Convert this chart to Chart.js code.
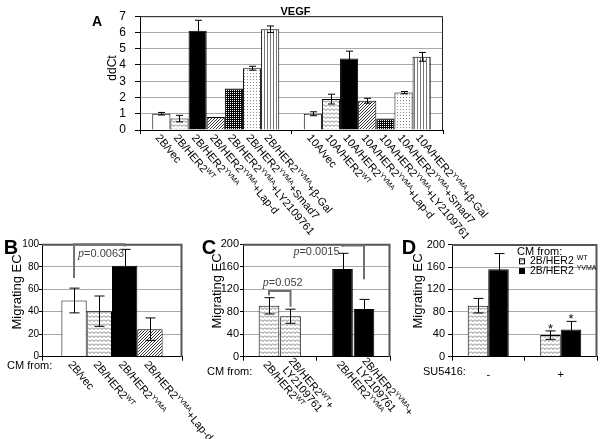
<!DOCTYPE html>
<html>
<head>
<meta charset="utf-8">
<script src="https://cdn.jsdelivr.net/npm/chart.js@4"></script>
<style>
body { margin: 0; background: #fff; }
#wrap { position: relative; width: 600px; height: 439px; overflow: hidden; }
canvas { position: absolute; }
</style>
</head>
<body>
<div id="wrap">
<canvas id="chartA" width="600" height="239" style="left:0px;top:0px"></canvas>
<canvas id="chartB" width="230" height="204" style="left:0px;top:235px"></canvas>
<canvas id="chartC" width="250" height="204" style="left:185px;top:235px"></canvas>
<canvas id="chartD" width="205" height="204" style="left:395px;top:235px"></canvas>
</div>
<script>
// data \/
// A: VEGF ddCt
const cellLines = ["2B", "10A"];
const treatments = ["vec", "HER2^{WT}", "HER2^{YVMA}", "HER2^{YVMA}+Lap-d", "HER2^{YVMA}+LY2109761", "HER2^{YVMA}+Smad7", "HER2^{YVMA}+β-Gal"];
const ddct2B = [1.0, 0.7, 6.1, 0.8, 2.55, 3.8, 6.2];
const ddct2Berr = [0.08, 0.2, 0.65, 0, 0, 0.12, 0.2];
const ddct10A = [1.0, 1.9, 4.4, 1.8, 0.7, 2.3, 4.5];
const ddct10Aerr = [0.12, 0.3, 0.45, 0.15, 0, 0.07, 0.27];
const ticksA = [0, 1, 2, 3, 4, 5, 6, 7];

// B: migrating EC, CM from 2B lines
const cmB = ["2B/vec", "2B/HER2^{WT}", "2B/HER2^{YVMA}", "2B/HER2^{YVMA}+Lap-d"];
const migB = [50, 40.5, 81, 24.5];
const migBerr = [11, 13.5, 14.5, 10];
const ticksB = [0, 20, 40, 60, 80, 100];

// C: with / without LY2109761
const cmC = ["2B/HER2^{WT}", "2B/HER2^{YVMA}"];
const migC = [90.5, 156];
const migCerr = [14.5, 28];
const migCly = [72, 85];
const migClyErr = [12.5, 17];
const ticksC = [0, 40, 80, 120, 160, 200];

// D: with / without SU5416
const su5416 = ["-", "+"];
const cmD = ["2B/HER2 ^{WT}", "2B/HER2 ^{YVMA}"];
const migDwt = [91, 38.5];
const migDwtErr = [13, 7.5];
const migDyvma = [156, 48.5];
const migDyvmaErr = [28, 14.5];
const starsDwt = [false, true];
const starsDyvma = [false, true];
const ticksD = [0, 40, 80, 120, 160, 200];
// data /\

const FONT = '"Liberation Sans", Arial, Helvetica, sans-serif';
Chart.defaults.font.family = FONT;
Chart.defaults.color = '#000';
const LABEL_ANGLE = 50 * Math.PI / 180;

// fill patterns \/
function makePattern(kind) {
    const sizes = { wave: [4, 4], diag: [3, 3], cross: [4, 4], dots: [3, 3], vline: [3, 1] };
    const t = document.createElement('canvas');
    t.width = sizes[kind][0];
    t.height = sizes[kind][1];
    const g = t.getContext('2d');
    g.fillStyle = '#fff';
    g.fillRect(0, 0, t.width, t.height);
    if (kind === 'wave') {
        g.strokeStyle = '#7a7a7a';
        g.lineWidth = 1;
        g.beginPath(); g.moveTo(0, 0.5); g.lineTo(2, 2.5); g.lineTo(4, 0.5); g.stroke();
    } else if (kind === 'diag') {
        g.fillStyle = '#333';
        for (let k = 0; k < 3; k++) g.fillRect(k, 2 - k, 1, 1);
    } else if (kind === 'cross') {
        g.fillStyle = '#000';
        g.fillRect(0, 0, 4, 4);
        g.fillStyle = '#fff';
        g.fillRect(0, 0, 1, 1); g.fillRect(2, 2, 1, 1);
        g.fillRect(0, 2, 1, 1); g.fillRect(2, 0, 1, 1);
    } else if (kind === 'dots') {
        g.fillStyle = '#8c8c8c';
        g.fillRect(1, 1, 1, 1);
    } else if (kind === 'vline') {
        g.fillStyle = '#777';
        g.fillRect(0, 0, 1, 1);
    }
    return g.createPattern(t, 'repeat');
}
const WHITE = '#fff', BLACK = '#000';
const WAVE = makePattern('wave'), DIAG = makePattern('diag'), CROSS = makePattern('cross');
const DOTS = makePattern('dots'), VLINE = makePattern('vline');
const patternsA = [WHITE, WAVE, BLACK, DIAG, CROSS, DOTS, VLINE];
const patternsB = [WHITE, WAVE, BLACK, DIAG];
const patternsC = [WAVE, BLACK];
// fill patterns /\

// text helpers \/
// "HER2^{WT}" -> HER2 with superscript WT
function parseRich(s) {
    const parts = [];
    const re = /\^\{([^}]*)\}/g;
    let last = 0, m;
    while ((m = re.exec(s))) {
        if (m.index > last) parts.push({ t: s.slice(last, m.index) });
        parts.push({ t: m[1], sup: true });
        last = re.lastIndex;
    }
    if (last < s.length) parts.push({ t: s.slice(last) });
    return parts;
}
function drawRich(ctx, s, x, y, size, align) {
    const parts = parseRich(s);
    const supSize = Math.round(size * 0.64);
    let w = 0;
    parts.forEach(p => {
        ctx.font = (p.sup ? supSize : size) + 'px ' + FONT;
        p.w = ctx.measureText(p.t).width;
        w += p.w;
    });
    if (align === 'center') x -= w / 2;
    else if (align === 'right') x -= w;
    ctx.textAlign = 'left';
    ctx.textBaseline = 'middle';
    parts.forEach(p => {
        ctx.font = (p.sup ? supSize : size) + 'px ' + FONT;
        ctx.fillText(p.t, x, p.sup ? y - size * 0.27 : y);
        x += p.w;
    });
    return w;
}
function drawRotLabel(ctx, s, x, y, size) {
    const lines = s.split('\n');
    ctx.save();
    ctx.translate(x, y);
    ctx.rotate(LABEL_ANGLE);
    ctx.fillStyle = '#000';
    lines.forEach((l, k) => {
        const off = (k - (lines.length - 1) / 2) * size * 0.95;
        drawRich(ctx, l, k * 3, off, size, 'left');
    });
    ctx.restore();
}
function drawVertical(ctx, s, x, y, size) {
    ctx.save();
    ctx.translate(x, y);
    ctx.rotate(-Math.PI / 2);
    ctx.font = size + 'px ' + FONT;
    ctx.fillStyle = '#000';
    ctx.textAlign = 'center';
    ctx.textBaseline = 'middle';
    ctx.fillText(s, 0, 0);
    ctx.restore();
}
function drawText(ctx, s, x, y, font, align) {
    ctx.font = font;
    ctx.fillStyle = '#000';
    ctx.textAlign = align || 'left';
    ctx.textBaseline = 'middle';
    ctx.fillText(s, x, y);
}
// p=value, italic p
function drawP(ctx, val, x, y, align) {
    ctx.fillStyle = '#444';
    ctx.textBaseline = 'middle';
    ctx.textAlign = 'left';
    ctx.font = 'italic 12px "Liberation Serif", serif';
    const wp = ctx.measureText('p').width;
    ctx.font = '11px ' + FONT;
    const wv = ctx.measureText('=' + val).width;
    if (align === 'center') x -= (wp + wv) / 2;
    else if (align === 'right') x -= wp + wv;
    ctx.font = 'italic 12px "Liberation Serif", serif';
    ctx.fillText('p', x, y);
    ctx.font = '11px ' + FONT;
    ctx.fillText('=' + val, x + wp, y);
}
// text helpers /\

// plugins \/
function errorBars(cap) {
    return {
        id: 'errorBars',
        afterDatasetsDraw(chart) {
            const ctx = chart.ctx, y = chart.scales.y;
            ctx.save();
            ctx.strokeStyle = '#000';
            ctx.lineWidth = 1;
            chart.data.datasets.forEach((ds, i) => {
                chart.getDatasetMeta(i).data.forEach((bar, j) => {
                    const e = ds.errors[j];
                    if (!e) return;
                    const x = Math.round(bar.x) + 0.5;
                    const top = y.getPixelForValue(ds.data[j] + e);
                    const bot = y.getPixelForValue(ds.data[j] - e);
                    ctx.beginPath();
                    ctx.moveTo(x, top); ctx.lineTo(x, bot);
                    ctx.moveTo(x - cap / 2, top); ctx.lineTo(x + cap / 2, top);
                    ctx.moveTo(x - cap / 2, bot); ctx.lineTo(x + cap / 2, bot);
                    ctx.stroke();
                });
            });
            ctx.restore();
        }
    };
}
function drawBox(chart, color, width) {
    const ctx = chart.ctx, ca = chart.chartArea;
    ctx.save();
    ctx.strokeStyle = color;
    ctx.lineWidth = width;
    ctx.beginPath();
    ctx.moveTo(ca.left, ca.top + 0.5);
    ctx.lineTo(ca.right - 0.5, ca.top + 0.5);
    ctx.lineTo(ca.right - 0.5, ca.bottom);
    ctx.stroke();
    ctx.restore();
}
// bracket between two bars, heights in data units
function drawBracket(chart, b) {
    const ctx = chart.ctx, y = chart.scales.y;
    const x1 = chart.getDatasetMeta(b.from[0]).data[b.from[1]].x;
    const x2 = chart.getDatasetMeta(b.to[0]).data[b.to[1]].x;
    const yt = y.getPixelForValue(b.top);
    ctx.save();
    ctx.strokeStyle = '#707070';
    ctx.lineWidth = 2;
    ctx.beginPath();
    ctx.moveTo(x1, y.getPixelForValue(b.legs[0]));
    ctx.lineTo(x1, yt);
    ctx.lineTo(x2, yt);
    ctx.lineTo(x2, y.getPixelForValue(b.legs[1]));
    ctx.stroke();
    const tx = b.align === 'left' ? x1 + 4 : b.align === 'right' ? x1 - 3 : (x1 + x2) / 2 + 3;
    drawP(ctx, b.p, tx, yt + b.dy, b.align);
    ctx.restore();
}
// plugins /\

function yScale(tickVals, width, size, pad, tl) {
    return {
        min: tickVals[0],
        max: tickVals[tickVals.length - 1],
        afterBuildTicks: s => { s.ticks = tickVals.map(v => ({ value: v })); },
        ticks: { font: { size: size }, color: '#000', padding: pad, autoSkip: false },
        grid: { color: '#aaaaaa', tickColor: '#000', tickLength: tl },
        border: { color: '#000' },
        afterFit: s => { s.width = width; }
    };
}
function xScale(height, ticks) {
    return {
        ticks: ticks || { display: false },
        grid: { offset: true, drawOnChartArea: false, tickLength: 4, tickColor: '#000' },
        border: { color: '#000' },
        afterFit: s => { s.height = height; }
    };
}
const baseOptions = (padding, scales) => ({
    responsive: false,
    animation: false,
    layout: { padding: padding },
    plugins: { legend: { display: false }, tooltip: { enabled: false } },
    scales: scales
});

// panel A \/
new Chart(document.getElementById('chartA'), {
    type: 'bar',
    data: {
        labels: cellLines,
        datasets: treatments.map((t, i) => ({
            label: t,
            data: [ddct2B[i], ddct10A[i]],
            errors: [ddct2Berr[i], ddct10Aerr[i]],
            backgroundColor: patternsA[i],
            borderColor: '#000',
            borderWidth: 1,
            barPercentage: 1,
            categoryPercentage: 0.838
        }))
    },
    options: baseOptions({ top: 12, right: 157 }, { x: xScale(109), y: yScale(ticksA, 140, 12, 9, 5) }),
    plugins: [errorBars(7), {
        id: 'decoA',
        afterDraw(chart) {
            const ctx = chart.ctx, ca = chart.chartArea;
            drawBox(chart, '#222', 1);
            chart.data.datasets.forEach((ds, i) => {
                chart.getDatasetMeta(i).data.forEach((bar, j) => {
                    drawRotLabel(ctx, cellLines[j] + '/' + treatments[i], bar.x - 4, ca.bottom + 6, 11);
                });
            });
            drawText(ctx, 'VEGF', (ca.left + ca.right) / 2 + 4, ca.top - 4.5, 'bold 11px ' + FONT, 'center');
            drawText(ctx, 'A', 97, 22, 'bold 14px ' + FONT, 'center');
            drawVertical(ctx, 'ddCt', 113, 68, 12);
        }
    }]
});
// panel A /\

// panel B \/
new Chart(document.getElementById('chartB'), {
    type: 'bar',
    data: {
        labels: ['CM'],
        datasets: cmB.map((c, i) => ({
            label: c,
            data: [migB[i]],
            errors: [migBerr[i]],
            backgroundColor: patternsB[i],
            borderColor: '#000',
            borderWidth: 1,
            barPercentage: 1,
            categoryPercentage: 0.723
        }))
    },
    options: baseOptions({ top: 9.3, right: 48 }, { x: xScale(82.3), y: yScale(ticksB, 42, 10, 0, 3) }),
    plugins: [errorBars(10), {
        id: 'decoB',
        afterDraw(chart) {
            const ctx = chart.ctx, ca = chart.chartArea;
            drawBox(chart, '#555', 2);
            chart.data.datasets.forEach((ds, i) => {
                const bar = chart.getDatasetMeta(i).data[0];
                drawRotLabel(ctx, cmB[i], bar.x - 4, ca.bottom + 6, 11);
            });
            drawBracket(chart, { from: [0, 0], to: [2, 0], top: 100, legs: [70, 98], p: '0.0063', align: 'left', dy: 10 });
            drawText(ctx, 'B', 11, 13, 'bold 20px ' + FONT, 'center');
            drawVertical(ctx, 'Migrating EC', 17, 57, 13);
            drawText(ctx, 'CM from:', 7, ca.bottom + 9.5, '11px ' + FONT, 'left');
        }
    }]
});
// panel B /\

// panel C \/
new Chart(document.getElementById('chartC'), {
    type: 'bar',
    data: {
        labels: cmC,
        datasets: [
            { label: '', data: migC, errors: migCerr },
            { label: '+\nLY2109761', data: migCly, errors: migClyErr }
        ].map(ds => Object.assign(ds, {
            backgroundColor: patternsC,
            borderColor: '#000',
            borderWidth: 1,
            barPercentage: 0.96,
            categoryPercentage: 0.585
        }))
    },
    options: baseOptions({ top: 9.3, right: 45 }, { x: xScale(82.3), y: yScale(ticksC, 58, 11, 1, 3) }),
    plugins: [errorBars(10), {
        id: 'decoC',
        afterDraw(chart) {
            const ctx = chart.ctx, ca = chart.chartArea;
            drawBox(chart, '#555', 2);
            chart.data.datasets.forEach((ds, i) => {
                chart.getDatasetMeta(i).data.forEach((bar, j) => {
                    drawRotLabel(ctx, cmC[j] + ds.label, bar.x - 4, ca.bottom + 6, 11);
                });
            });
            drawBracket(chart, { from: [0, 0], to: [1, 0], top: 117, legs: [109.5, 89], p: '0.052', align: 'center', dy: -8 });
            drawBracket(chart, { from: [0, 1], to: [1, 1], top: 198, legs: [195, 138], p: '0.0015', align: 'right', dy: 6.5 });
            drawText(ctx, 'C', 24, 13, 'bold 20px ' + FONT, 'center');
            drawVertical(ctx, 'Migrating EC', 32, 56, 13);
            drawText(ctx, 'CM from:', 22, ca.bottom + 15, '11px ' + FONT, 'left');
        }
    }]
});
// panel C /\

// panel D \/
new Chart(document.getElementById('chartD'), {
    type: 'bar',
    data: {
        labels: su5416,
        datasets: [
            { label: cmD[0], data: migDwt, errors: migDwtErr, stars: starsDwt, backgroundColor: WAVE },
            { label: cmD[1], data: migDyvma, errors: migDyvmaErr, stars: starsDyvma, backgroundColor: BLACK }
        ].map(ds => Object.assign(ds, {
            borderColor: '#000',
            borderWidth: 1,
            barPercentage: 1,
            categoryPercentage: 0.566
        }))
    },
    options: baseOptions({ top: 9.3, right: 3 }, {
        x: xScale(82.3, { font: { size: 11 }, color: '#000', padding: 8 }),
        y: yScale(ticksD, 57, 11, 3, 4)
    }),
    plugins: [errorBars(10), {
        id: 'decoD',
        afterDraw(chart) {
            const ctx = chart.ctx, ca = chart.chartArea, y = chart.scales.y;
            drawBox(chart, '#555', 2);
            // significance stars
            chart.data.datasets.forEach((ds, i) => {
                chart.getDatasetMeta(i).data.forEach((bar, j) => {
                    if (!ds.stars[j]) return;
                    ctx.font = '13px ' + FONT;
                    ctx.fillStyle = '#000';
                    ctx.textAlign = 'center';
                    ctx.textBaseline = 'alphabetic';
                    ctx.fillText('*', bar.x, y.getPixelForValue(ds.data[j] + ds.errors[j]) + 2);
                });
            });
            // legend
            drawText(ctx, 'CM from:', ca.left + 65, ca.top + 7.2, '11px ' + FONT, 'left');
            chart.data.datasets.forEach((ds, i) => {
                const ly = ca.top + 16.7 + i * 9.7;
                ctx.fillStyle = ds.backgroundColor;
                ctx.fillRect(ca.left + 67, ly - 3, 6, 6);
                ctx.strokeStyle = '#000';
                ctx.lineWidth = 1;
                ctx.strokeRect(ca.left + 67.5, ly - 2.5, 5, 5);
                ctx.fillStyle = '#000';
                drawRich(ctx, ds.label, ca.left + 78, ly, 10.5, 'left');
            });
            drawText(ctx, 'D', 14, 13.5, 'bold 20px ' + FONT, 'center');
            drawVertical(ctx, 'Migrating EC', 23, 56, 13);
            drawText(ctx, 'SU5416:', 28, ca.bottom + 15, '11px ' + FONT, 'left');
        }
    }]
});
// panel D /\
</script>
</body>
</html>
